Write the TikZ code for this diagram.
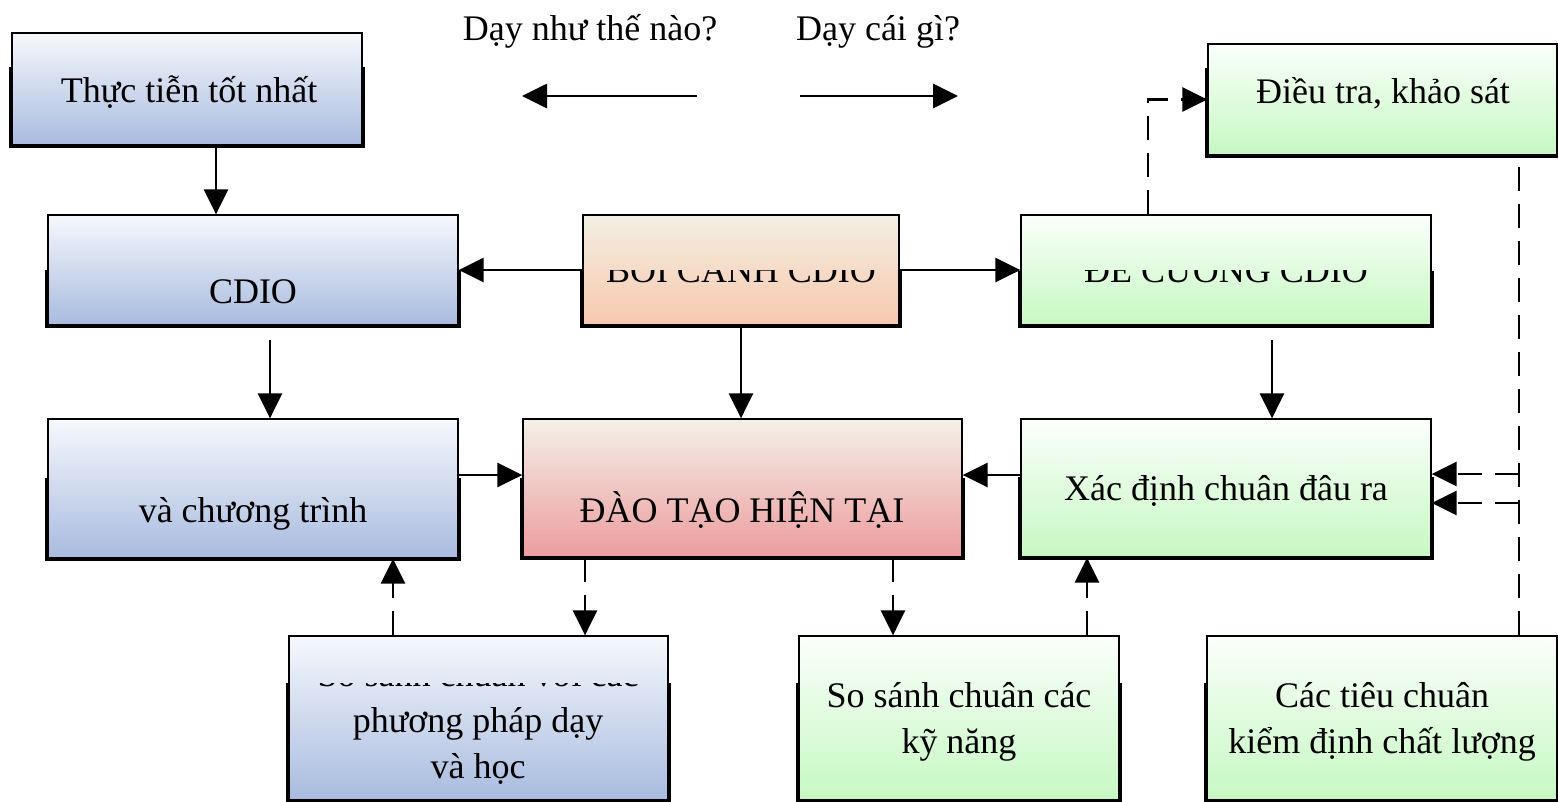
\documentclass[tikz,border=0pt]{standalone}
\usepackage{fontspec}
\setmainfont{Liberation Serif}
\usetikzlibrary{arrows.meta}
\definecolor{bluetop}{HTML}{F6F8FC}
\definecolor{bluebot}{HTML}{A8BBDF}
\definecolor{peachtop}{HTML}{F2EFE3}
\definecolor{peachbot}{HTML}{F8C8AE}
\definecolor{pinktop}{HTML}{F3F0E8}
\definecolor{pinkbot}{HTML}{EC9C9E}
\definecolor{greentop}{HTML}{FBFFFB}
\definecolor{greenbot}{HTML}{C6F8C2}
\tikzset{
  box/.style={draw=black,line width=1.3pt,inner sep=0pt},
  bluebox/.style={box,top color=bluetop,bottom color=bluebot},
  peachbox/.style={box,top color=peachtop,bottom color=peachbot},
  pinkbox/.style={box,top color=pinktop,bottom color=pinkbot},
  greenbox/.style={box,top color=greentop,bottom color=greenbot},
  txt/.style={anchor=base,inner sep=0pt,font=\fontsize{36}{46}\selectfont,align=center},
  edgeline/.style={line width=3.8pt},
  arr/.style={line width=2.8pt,-{Triangle[length=25pt,width=24pt]}},
  darr/.style={arr,dash pattern=on 24pt off 13pt},
  dline/.style={line width=2.8pt,dash pattern=on 24pt off 13pt},
}
\begin{document}
\begin{tikzpicture}[x=1pt,y=-1pt]
\useasboundingbox (0,0) rectangle (1558,801);
\fill[white] (0,0) rectangle (1558,801);
% boxes
\node[bluebox,minimum width=350pt,minimum height=112pt] (b1) at (187,89) {};
\node[bluebox,minimum width=410pt,minimum height=110pt] (b2) at (253,270) {};
\node[peachbox,minimum width=316pt,minimum height=110pt] (b3) at (741,270) {};
\node[greenbox,minimum width=410pt,minimum height=110pt] (b4) at (1226,270) {};
\node[greenbox,minimum width=349pt,minimum height=111pt] (b5) at (1382.5,99.5) {};
\node[bluebox,minimum width=410pt,minimum height=139pt] (b6) at (253,488.5) {};
\node[pinkbox,minimum width=439pt,minimum height=138pt] (b7) at (742.5,488) {};
\node[greenbox,minimum width=410pt,minimum height=138pt] (b8) at (1226,488) {};
\node[bluebox,minimum width=379pt,minimum height=164pt] (b9) at (478.5,718) {};
\node[greenbox,minimum width=320pt,minimum height=164pt] (b10) at (959,718) {};
\node[greenbox,minimum width=350pt,minimum height=164pt] (b11) at (1382,718) {};
% thick lower edges
\draw[edgeline] (b1.south west |- 0,67) -- (b1.south west) -- (b1.south east) -- (b1.south east |- 0,67);
\draw[edgeline] (b2.south west |- 0,270) -- (b2.south west) -- (b2.south east) -- (b2.south east |- 0,270);
\draw[edgeline] (b3.south west |- 0,271) -- (b3.south west) -- (b3.south east) -- (b3.south east |- 0,271);
\draw[edgeline] (b4.south west |- 0,271) -- (b4.south west) -- (b4.south east) -- (b4.south east |- 0,271);
\draw[edgeline] (b5.south west |- 0,68) -- (b5.south west) -- (b5.south east) -- (b5.south east |- 0,68);
\draw[edgeline] (b6.south west |- 0,478) -- (b6.south west) -- (b6.south east) -- (b6.south east |- 0,478);
\draw[edgeline] (b7.south west |- 0,478) -- (b7.south west) -- (b7.south east) -- (b7.south east |- 0,478);
\draw[edgeline] (b8.south west |- 0,477) -- (b8.south west) -- (b8.south east) -- (b8.south east |- 0,477);
\draw[edgeline] (b9.south west |- 0,683) -- (b9.south west) -- (b9.south east) -- (b9.south east |- 0,683);
\draw[edgeline] (b10.south west |- 0,683) -- (b10.south west) -- (b10.south east) -- (b10.south east |- 0,683);
\draw[edgeline] (b11.south west |- 0,683) -- (b11.south west) -- (b11.south east) -- (b11.south east |- 0,683);
% texts
\node[txt] (t1) at (189,102) {Thực tiễn tốt nhất};
\node[txt] (t2) at (253,303) {CDIO};
\begin{scope}
\clip (b3.south west |- 0,270) rectangle (b3.south east);
\node[txt] (t3) at (741,282) {BỐI CẢNH CDIO};
\end{scope}
\begin{scope}
\clip (b4.south west |- 0,270) rectangle (b4.south east);
\node[txt] (t4) at (1226,282) {ĐỀ CƯƠNG CDIO};
\end{scope}
\node[txt] (t5) at (1383,103) {Điều tra, khảo sát};
\node[txt] (t6) at (253,522) {và chương trình};
\node[txt] (t7) at (742,522) {ĐÀO TẠO HIỆN TẠI};
\node[txt] (t8) at (1226,500) {Xác định chuân đâu ra};
\begin{scope}
\clip (b9.south west |- 0,683) rectangle (b9.south east);
\node[txt] (t9) at (478,778) {So sánh chuẩn với các\\phương pháp dạy\\và học};
\end{scope}
\node[txt] (t10) at (959,753) {So sánh chuân các\\kỹ năng};
\node[txt] (t11) at (1382,753) {Các tiêu chuân\\kiểm định chất lượng};
\node[txt] (q1) at (590,40) {Dạy như thế nào?};
\node[txt] (q2) at (878,40) {Dạy cái gì?};
% top arrows
\coordinate (l1) at (697,96);
\coordinate (l2) at (522,96);
\coordinate (r1) at (800,96);
\coordinate (r2) at (958,96);
\draw[arr] (l1) -- (l2);
\draw[arr] (r1) -- (r2);
% solid connectors
\draw[arr] (b1.south -| 216,0) -- (b2.north -| 216,0);
\draw[arr] (b3.west) -- (b2.east);
\draw[arr] (b3.east) -- (b4.west);
\draw[arr] (b3.south) -- (b3.south |- b7.north);
\coordinate (c2) at (270,340);
\coordinate (c4) at (1272,340);
\draw[arr] (c2) -- (c2 |- b6.north);
\draw[arr] (c4) -- (c4 |- b8.north);
\draw[arr] (b6.east |- 0,475) -- (b7.west |- 0,475);
\draw[arr] (b8.west |- 0,475) -- (b7.east |- 0,475);
% dashed connectors
\draw[darr] (b7.south -| 585,0) -- (b9.north -| 585,0);
\draw[darr] (b7.south -| 893,0) -- (b10.north -| 893,0);
\draw[darr] (b9.north -| 393,0) -- (b6.south -| 393,0);
\draw[darr] (b10.north -| 1087,0) -- (b8.south -| 1087,0);
\draw[darr] (b4.north -| 1148,0) |- (b5.west);
\coordinate (v1) at (1519,167);
\draw[dline] (v1) -- (v1 |- b11.north);
\coordinate (j1) at (1519,474);
\coordinate (j2) at (1519,503);
\draw[darr] (j1) -- (b8.east |- j1);
\draw[darr] (j2) -- (b8.east |- j2);
\end{tikzpicture}
\end{document}
